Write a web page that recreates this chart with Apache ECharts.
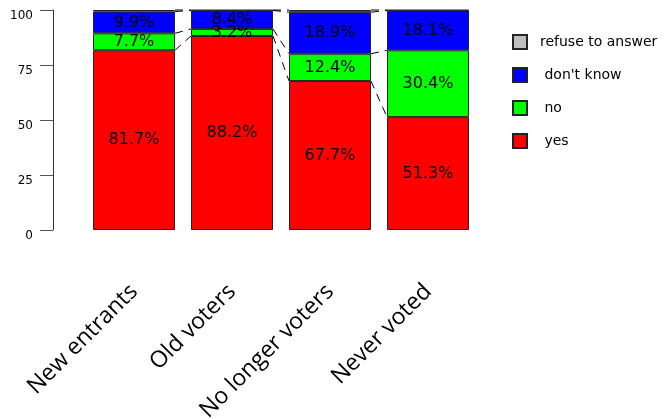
<!DOCTYPE html>
<html><head><meta charset="utf-8">
<script src="https://cdn.jsdelivr.net/npm/echarts@6/dist/echarts.min.js"></script>
<style>html,body{margin:0;padding:0;background:#fff}#c{width:669px;height:419px}</style>
</head><body><div id="c"></div>
<script>
const categories = ['New entrants', 'Old voters', 'No longer voters', 'Never voted'];
const yes = [81.7, 88.2, 67.7, 51.3];
const no = [7.7, 3.2, 12.4, 30.4];
const dontKnow = [9.9, 8.4, 18.9, 18.1];
const refuse = [0.7, 0.2, 1.0, 0.2];
const yTicks = [0, 25, 50, 75, 100];

const seriesDefs = [
  {name: 'yes', data: yes, color: '#ff0000', label: true},
  {name: 'no', data: no, color: '#00ff00', label: true},
  {name: "don't know", data: dontKnow, color: '#0000ff', label: true},
  {name: 'refuse to answer', data: refuse, color: '#bebebe', label: false}
];

// cumulative levels for connectors
const levels = [];
let cum = categories.map(() => 0);
seriesDefs.forEach(s => {
  cum = cum.map((c, i) => c + s.data[i]);
  levels.push(cum.slice());
});
const connectors = [];
levels.forEach(lv => {
  for (let i = 0; i < categories.length - 1; i++) connectors.push([i, lv[i], lv[i + 1]]);
});

const FONT = 'DejaVu Sans';
const barW = 82;
const chart = echarts.init(document.getElementById('c'));
chart.setOption({
  animation: false,
  grid: {left: 85, right: 192, top: 10, bottom: 189, outerBoundsMode: 'none', containLabel: false},
  legend: {
    orient: 'vertical', left: 507, top: 29,
    data: ['refuse to answer', "don't know", 'no', 'yes'],
    icon: 'rect',
    itemWidth: 14, itemHeight: 14, itemGap: 17,
    formatter: n => n === 'refuse to answer' ? n : ' ' + n,
    textStyle: {fontFamily: FONT, fontSize: 14, color: '#000', padding: [0, 0, 0, 8]}
  },
  xAxis: {
    type: 'category', data: categories,
    axisLine: {show: false}, axisTick: {show: false},
    axisLabel: {rotate: 45, margin: 58, fontFamily: 'Open Sans', fontSize: 23, color: '#000'}
  },
  yAxis: {
    type: 'value', min: 0, max: 100, interval: 25, offset: 32,
    axisLine: {show: true, lineStyle: {color: '#333'}},
    axisTick: {show: true, length: 13, lineStyle: {color: '#555'}},
    splitLine: {show: false},
    axisLabel: {fontFamily: FONT, fontSize: 12, color: '#000', margin: 20,
      verticalAlign: 'top', customValues: yTicks}
  },
  series: seriesDefs.map(s => ({
    name: s.name, type: 'bar', stack: 'all', barWidth: barW,
    data: s.data,
    itemStyle: {color: s.color, borderColor: '#222', borderWidth: 1},
    label: {show: s.label, position: 'inside', formatter: '{c}%',
      fontFamily: FONT, fontSize: 16, color: '#000'},
    emphasis: {disabled: true}
  })).concat([{
    type: 'custom', name: 'connectors', data: connectors, z: 1,
    renderItem: (params, api) => {
      const p1 = api.coord([api.value(0), api.value(1)]);
      const p2 = api.coord([api.value(0) + 1, api.value(2)]);
      return {
        type: 'line',
        shape: {x1: p1[0] + barW / 2, y1: p1[1], x2: p2[0] - barW / 2, y2: p2[1]},
        style: {stroke: '#000', lineWidth: 1, lineDash: [8, 6]}
      };
    }
  }])
});
</script></body></html>
